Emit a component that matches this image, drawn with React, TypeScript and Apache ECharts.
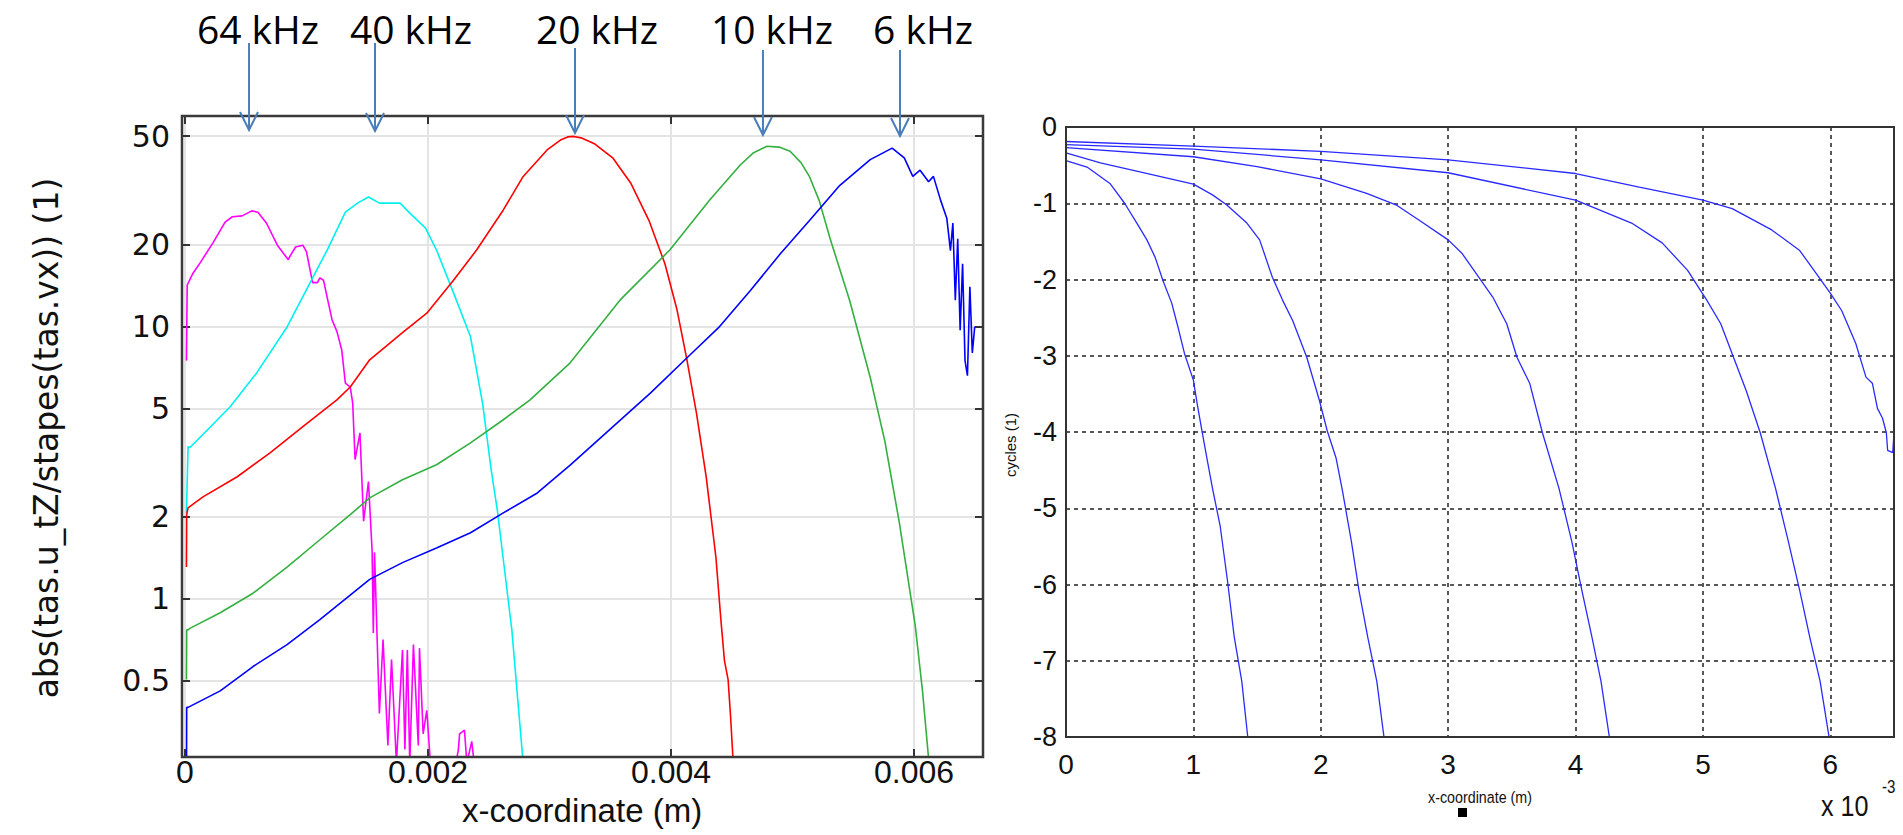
import React, { useEffect, useRef } from "react";
import * as echarts from "echarts";

// ---------- Left chart: abs(tas.u_tZ/stapes(tas.vx)) vs x-coordinate (m), log amplitude ----------
const leftXTicks = [0, 0.002, 0.004, 0.006];
const leftYTicks = [0.5, 1, 2, 5, 10, 20, 50];
const leftXRange = [-0.0000247, 0.006568];
const leftYRange = [0.263, 59.3];

const magentaX = [0.000012, 0.000018, 0.000066, 0.000123, 0.00023, 0.00033, 0.00039, 0.00047, 0.00055, 0.0006, 0.00067, 0.00076, 0.00085, 0.00086, 0.00091, 0.00097, 0.001, 0.00105, 0.00109, 0.00111, 0.00114, 0.00117, 0.00121, 0.00125, 0.00129, 0.00132, 0.00136, 0.00138, 0.0014, 0.00144, 0.00147, 0.00151, 0.00154, 0.00155, 0.00156, 0.0016, 0.00163, 0.00167, 0.0017, 0.00174, 0.00179, 0.00181, 0.00183, 0.00185, 0.00188, 0.00192, 0.00193, 0.00196, 0.00199, 0.00202, 0.00223, 0.00225, 0.00226, 0.0023, 0.00232, 0.00236, 0.00238];
const magentaY = [7.5, 14.2, 15.7, 17.1, 20.3, 24.2, 25.3, 25.5, 26.6, 26.3, 24.0, 19.9, 17.6, 18.0, 19.6, 19.9, 18.8, 14.5, 14.5, 15.1, 14.8, 12.8, 10.6, 9.6, 8.2, 6.2, 6.0, 5.25, 3.25, 4.07, 1.93, 2.7, 1.5, 0.75, 1.48, 0.38, 0.71, 0.29, 0.6, 0.25, 0.65, 0.28, 0.65, 0.25, 0.68, 0.29, 0.66, 0.32, 0.39, 0.25, 0.25, 0.28, 0.32, 0.33, 0.25, 0.3, 0.25];

const cyanX = [0.000012, 0.000025, 0.00004, 0.00021, 0.00037, 0.00059, 0.00084, 0.00103, 0.00117, 0.00132, 0.00142, 0.00151, 0.0016, 0.00177, 0.00185, 0.00198, 0.00207, 0.00221, 0.00235, 0.00245, 0.00252, 0.00257, 0.0026, 0.00269, 0.00278];
const cyanY = [2.07, 3.62, 3.6, 4.29, 5.07, 6.76, 9.97, 14.5, 19.1, 26.3, 28.4, 29.9, 28.4, 28.4, 26.1, 23.0, 19.1, 13.3, 9.17, 5.2, 2.98, 2.13, 1.65, 0.77, 0.26];

const redX = [0.000012, 0.000014, 0.000025, 0.000148, 0.00043, 0.0007, 0.00097, 0.00125, 0.00136, 0.00152, 0.00179, 0.00199, 0.00221, 0.0024, 0.00262, 0.00278, 0.00298, 0.00309, 0.00315, 0.0032, 0.00326, 0.003374, 0.003523, 0.003671, 0.003819, 0.00395, 0.00405, 0.00413, 0.00421, 0.00429, 0.00437, 0.00441, 0.00444, 0.00447, 0.00449, 0.00451];
const redY = [1.31, 2.04, 2.16, 2.37, 2.81, 3.44, 4.29, 5.38, 6.0, 7.55, 9.5, 11.2, 14.8, 19.1, 26.8, 35.4, 44.5, 48.4, 49.7, 49.9, 49.3, 46.8, 41.5, 33.5, 24.5, 17.0, 11.5, 7.6, 4.8, 2.8, 1.42, 0.845, 0.594, 0.506, 0.373, 0.26];

const greenX = [0.000012, 0.000014, 0.000025, 0.00004, 0.00029, 0.00056, 0.00084, 0.00111, 0.00136, 0.00152, 0.00179, 0.00207, 0.00235, 0.00262, 0.00284, 0.00317, 0.00358, 0.00399, 0.00432, 0.00457, 0.00468, 0.00479, 0.00489, 0.00498, 0.00507, 0.00514, 0.00522, 0.00531, 0.00547, 0.00564, 0.00576, 0.00588, 0.00601, 0.00607, 0.00612];
const greenY = [0.506, 0.77, 0.77, 0.78, 0.89, 1.05, 1.31, 1.65, 2.04, 2.35, 2.74, 3.11, 3.74, 4.55, 5.38, 7.36, 12.5, 19.1, 29.2, 39.2, 43.5, 45.9, 45.6, 44.0, 40.0, 35.5, 29.0, 21.0, 12.5, 6.5, 3.8, 1.9, 0.8, 0.46, 0.26];

const blueX = [0.000012, 0.000014, 0.000025, 0.00029, 0.00056, 0.00084, 0.00111, 0.00138, 0.00152, 0.00179, 0.00207, 0.00235, 0.00262, 0.0029, 0.00317, 0.0035, 0.00383, 0.00416, 0.0044, 0.00465, 0.0049, 0.00514, 0.00539, 0.00564, 0.00582, 0.00592, 0.00599, 0.00605, 0.00612, 0.00616, 0.00622, 0.00627, 0.0063, 0.00632, 0.00634, 0.00636, 0.00638, 0.0064, 0.00642, 0.00644, 0.00646, 0.00648, 0.0065];
const blueY = [0.2, 0.4, 0.4, 0.46, 0.565, 0.68, 0.84, 1.05, 1.18, 1.36, 1.54, 1.75, 2.07, 2.45, 3.1, 4.2, 5.7, 7.9, 10.0, 13.5, 18.5, 24.5, 33.0, 41.0, 45.2, 41.6, 35.6, 37.5, 34.0, 35.6, 29.0, 25.0, 19.0, 24.0, 12.5, 21.0, 9.7, 17.0, 7.5, 6.6, 14.0, 8.0, 10.0];

const arrowX = [0.000527, 0.001564, 0.00321, 0.004757, 0.005885];
const arrowTop = [43, 43, 48, 50, 50];
const arrowTip = [130, 131, 133, 135, 136];
const freqLabels = ["64 kHz", "40 kHz", "20 kHz", "10 kHz", "6 kHz"];
const freqLabelX = [258, 411, 597, 772, 923];

// ---------- Right chart: cycles (1) vs x-coordinate (x 10^-3 m) ----------
const rightXRange = [0, 6.5];
const rightYRange = [-8, 0];

const phaseAX = [0, 0.165, 0.345, 0.46, 0.556, 0.635, 0.7, 0.76, 0.83, 0.88, 0.93, 1.0, 1.03, 1.07, 1.11, 1.15, 1.21, 1.27, 1.32, 1.38, 1.43];
const phaseAY = [-0.44, -0.525, -0.74, -1.0, -1.26, -1.48, -1.71, -2.01, -2.31, -2.63, -2.97, -3.32, -3.63, -4.01, -4.38, -4.74, -5.23, -5.98, -6.68, -7.27, -8.05];

const phaseBX = [0, 0.27, 0.58, 1.0, 1.15, 1.26, 1.42, 1.52, 1.62, 1.7, 1.78, 1.89, 1.99, 2.05, 2.12, 2.17, 2.24, 2.3, 2.37, 2.44, 2.5];
const phaseBY = [-0.34, -0.47, -0.59, -0.75, -0.89, -1.02, -1.26, -1.48, -1.97, -2.27, -2.54, -3.02, -3.59, -3.98, -4.34, -4.77, -5.43, -6.08, -6.7, -7.27, -8.05];

const phaseCX = [0, 1.0, 1.5, 2.0, 2.36, 2.59, 2.77, 3.0, 3.11, 3.24, 3.35, 3.46, 3.54, 3.64, 3.74, 3.87, 3.97, 4.05, 4.13, 4.2, 4.27];
const phaseCY = [-0.27, -0.39, -0.52, -0.68, -0.87, -1.02, -1.22, -1.48, -1.66, -1.97, -2.23, -2.58, -3.02, -3.36, -4.01, -4.74, -5.43, -6.08, -6.7, -7.27, -8.05];

const phaseDX = [0, 1.0, 2.0, 3.0, 4.0, 4.44, 4.68, 4.88, 5.03, 5.14, 5.24, 5.34, 5.45, 5.57, 5.67, 5.76, 5.84, 5.92, 5.995];
const phaseDY = [-0.23, -0.29, -0.43, -0.6, -0.96, -1.26, -1.52, -1.88, -2.27, -2.58, -3.02, -3.46, -4.01, -4.74, -5.43, -6.08, -6.7, -7.27, -8.05];

const phaseEX = [0, 1.0, 2.0, 3.0, 4.0, 4.5, 5.0, 5.23, 5.54, 5.76, 5.91, 6.0, 6.09, 6.2, 6.24, 6.28, 6.33, 6.37, 6.41, 6.44, 6.45, 6.49, 6.5];
const phaseEY = [-0.19, -0.25, -0.32, -0.43, -0.61, -0.79, -0.96, -1.07, -1.35, -1.62, -1.97, -2.18, -2.41, -2.84, -3.06, -3.28, -3.36, -3.69, -3.82, -4.01, -4.24, -4.27, -4.02];

const LEFT = { left: 182, top: 116, width: 801, height: 641 };
const RIGHT = { left: 1066, top: 127, width: 828, height: 610 };
const SANS = "Liberation Sans";

const zipLog = (xs: number[], ys: number[]) => xs.map((x, i) => [x, Math.log10(ys[i])]);
const zip = (xs: number[], ys: number[]) => xs.map((x, i) => [x, ys[i]]);

export default function App() {
  const ref = useRef<HTMLDivElement>(null);
  useEffect(() => {
    if (!ref.current) return;
    const chart = echarts.init(ref.current, null, { renderer: "svg" });
    const yLogTicks = leftYTicks.map((v) => Math.log10(v));
    const fmtLog = (v: number) => String(Number(Math.pow(10, v).toPrecision(2)));
    const fmtX = (v: number) => (Math.abs(v) < 1e-9 ? "0" : String(Number(v.toFixed(3))));
    const leftTick = { show: true, inside: true, length: 8, lineStyle: { color: "#333", width: 2 } };
    const noLine = { show: false, onZero: false };
    const leftLineSeries = (name: string, xs: number[], ys: number[], color: string) => ({
      name,
      type: "line",
      xAxisIndex: 0,
      yAxisIndex: 0,
      data: zipLog(xs, ys),
      showSymbol: false,
      symbol: "none",
      lineStyle: { color, width: 1.6 },
      clip: true,
      z: 3,
    });
    const rightLineSeries = (name: string, xs: number[], ys: number[]) => ({
      name,
      type: "line",
      xAxisIndex: 2,
      yAxisIndex: 2,
      data: zip(xs, ys),
      showSymbol: false,
      symbol: "none",
      lineStyle: { color: "#2a2aff", width: 1.3 },
      clip: true,
      z: 3,
    });

    chart.setOption({
      animation: false,
      backgroundColor: "#ffffff",
      grid: [
        { ...LEFT, show: true, borderColor: "#3a3a3a", borderWidth: 2.5, backgroundColor: "transparent", z: 5 },
        { ...RIGHT, show: true, borderColor: "#333", borderWidth: 2, backgroundColor: "transparent", z: 5 },
      ],
      xAxis: [
        {
          type: "value", gridIndex: 0, min: leftXRange[0], max: leftXRange[1],
          axisLine: noLine,
          axisTick: { ...leftTick, customValues: leftXTicks },
          axisLabel: { customValues: leftXTicks, formatter: fmtX, fontFamily: SANS, fontSize: 32, lineHeight: 28, color: "#111", margin: 1 },
          splitLine: { show: true, lineStyle: { color: "#e4e4e4", width: 2 } },
        },
        {
          type: "value", gridIndex: 0, position: "top", min: leftXRange[0], max: leftXRange[1],
          axisLine: noLine,
          axisTick: { ...leftTick, customValues: leftXTicks },
          axisLabel: { show: false },
          splitLine: { show: false },
        },
        {
          type: "value", gridIndex: 1, min: rightXRange[0], max: rightXRange[1], interval: 1,
          axisLine: noLine,
          axisTick: { show: false },
          axisLabel: { fontFamily: SANS, fontSize: 28, lineHeight: 28, color: "#111", margin: 13, showMaxLabel: false },
          splitLine: { show: true, lineStyle: { color: "#222", width: 1.5, type: [4, 4] } },
        },
      ],
      yAxis: [
        {
          type: "value", gridIndex: 0, min: Math.log10(leftYRange[0]), max: Math.log10(leftYRange[1]),
          axisLine: noLine,
          axisTick: { ...leftTick, customValues: yLogTicks },
          axisLabel: { customValues: yLogTicks, formatter: fmtLog, fontFamily: "DejaVu Sans", fontSize: 30, color: "#111", margin: 12 },
          splitLine: { show: true, lineStyle: { color: "#e4e4e4", width: 2 } },
        },
        {
          type: "value", gridIndex: 0, position: "right", min: Math.log10(leftYRange[0]), max: Math.log10(leftYRange[1]),
          axisLine: noLine,
          axisTick: { ...leftTick, customValues: yLogTicks },
          axisLabel: { show: false },
          splitLine: { show: false },
        },
        {
          type: "value", gridIndex: 1, min: rightYRange[0], max: rightYRange[1], interval: 1,
          axisLine: noLine,
          axisTick: { show: false },
          axisLabel: { fontFamily: SANS, fontSize: 27, color: "#111", margin: 9 },
          splitLine: { show: true, lineStyle: { color: "#222", width: 1.5, type: [4, 4] } },
        },
      ],
      series: [
        leftLineSeries("64 kHz", magentaX, magentaY, "#ff00ff"),
        leftLineSeries("40 kHz", cyanX, cyanY, "#00f0f0"),
        leftLineSeries("20 kHz", redX, redY, "#ff0000"),
        leftLineSeries("10 kHz", greenX, greenY, "#33b040"),
        leftLineSeries("6 kHz", blueX, blueY, "#0000ff"),
        rightLineSeries("A", phaseAX, phaseAY),
        rightLineSeries("B", phaseBX, phaseBY),
        rightLineSeries("C", phaseCX, phaseCY),
        rightLineSeries("D", phaseDX, phaseDY),
        rightLineSeries("E", phaseEX, phaseEY),
      ],
    });

    const graphics: any[] = [];
    arrowX.forEach((xv, i) => {
      const px = chart.convertToPixel({ xAxisIndex: 0 }, xv) as number;
      graphics.push({
        type: "line", z: 20,
        shape: { x1: px, y1: arrowTop[i], x2: px, y2: arrowTip[i] },
        style: { stroke: "#4a7ebb", lineWidth: 2 },
      });
      graphics.push({
        type: "polyline", z: 20,
        shape: { points: [[px - 9, arrowTip[i] - 18], [px, arrowTip[i]], [px + 9, arrowTip[i] - 18]] },
        style: { stroke: "#4a7ebb", lineWidth: 2, fill: null },
      });
      graphics.push({
        type: "text", z: 20, x: freqLabelX[i], y: 28,
        style: { text: freqLabels[i], fontFamily: "Open Sans", fontSize: 39, lineHeight: 40, fill: "#000", align: "center", verticalAlign: "middle" },
      });
    });
    graphics.push({
      type: "text", x: 582, y: 810,
      style: { text: "x-coordinate (m)", fontFamily: SANS, fontSize: 33, lineHeight: 32, fill: "#111", align: "center", verticalAlign: "middle" },
    });
    graphics.push({
      type: "text", x: 46, y: 438, rotation: Math.PI / 2,
      style: { text: "abs(tas.u_tZ/stapes(tas.vx)) (1)", fontFamily: "DejaVu Sans", fontSize: 33, fill: "#111", align: "center", verticalAlign: "middle" },
    });
    graphics.push({
      type: "text", x: 1010, y: 445, rotation: Math.PI / 2,
      style: { text: "cycles (1)", fontFamily: SANS, fontSize: 15, fill: "#111", align: "center", verticalAlign: "middle" },
    });
    graphics.push({
      type: "text", x: 1480, y: 797, scaleX: 0.84,
      style: { text: "x-coordinate (m)", fontFamily: SANS, fontSize: 17, fill: "#111", align: "center", verticalAlign: "middle" },
    });
    graphics.push({ type: "rect", shape: { x: 1458, y: 808, width: 9, height: 9 }, style: { fill: "#000" } });
    graphics.push({
      type: "text", x: 1821, y: 806, scaleX: 0.84,
      style: { text: "x 10", fontFamily: SANS, fontSize: 30, fill: "#111", align: "left", verticalAlign: "middle" },
    });
    graphics.push({
      type: "text", x: 1882, y: 787, scaleX: 0.84,
      style: { text: "-3", fontFamily: SANS, fontSize: 18, fill: "#111", align: "left", verticalAlign: "middle" },
    });
    chart.setOption({ graphic: graphics });

    return () => chart.dispose();
  }, []);
  return <div ref={ref} style={{ position: "absolute", left: 0, top: 0, width: 1903, height: 835 }} />;
}
